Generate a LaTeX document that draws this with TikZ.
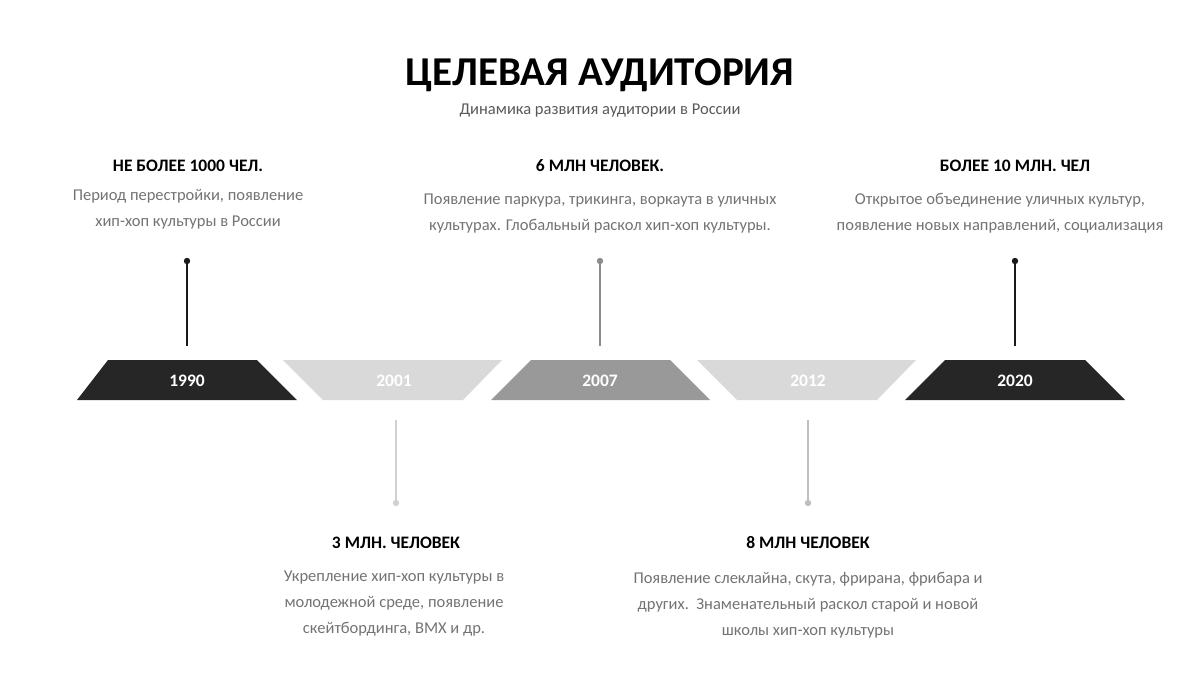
\documentclass[tikz,border=0pt]{standalone}
\usepackage{fontspec}
\setmainfont{Carlito}
\begin{document}
\begin{tikzpicture}[x=1pt,y=-1pt,
 hdr/.style={font=\fontsize{17.5}{21}\selectfont\bfseries,text=black},
 body/.style={font=\fontsize{16.5}{26}\selectfont,text=black!55,align=center},
 yr/.style={font=\fontsize{17.5}{21}\selectfont\bfseries,text=white}]
\useasboundingbox (0,0) rectangle (1200,675);
\node[font=\fontsize{41}{48}\selectfont\bfseries] (title) at (600,75) {ЦЕЛЕВАЯ АУДИТОРИЯ};
\node[font=\fontsize{16.5}{20}\selectfont,text=black!65] (sub) at (600,111) {Динамика развития аудитории в России};
% trapezoids
\fill[black!85] (108,360)--(257,360)--(297,400)--(77,400)--cycle;
\fill[black!15] (283,360)--(502,360)--(463,400)--(323,400)--cycle;
\fill[black!40] (531,360)--(670,360)--(710,400)--(491,400)--cycle;
\fill[black!15] (697,360)--(916,360)--(877,400)--(737,400)--cycle;
\fill[black!85] (945,360)--(1085,360)--(1125,400)--(905,400)--cycle;
\node[yr] (y1) at (187,381) {1990};
\node[yr] (y2) at (394,381) {2001};
\node[yr] (y3) at (600,381) {2007};
\node[yr] (y4) at (808,381) {2012};
\node[yr] (y5) at (1015,381) {2020};
% stems
\coordinate (d1) at (187,261); \coordinate (e1) at (187,346);
\coordinate (d3) at (600,261); \coordinate (e3) at (600,346);
\coordinate (d5) at (1015,261); \coordinate (e5) at (1015,346);
\coordinate (d2) at (396,503); \coordinate (e2) at (396,420);
\coordinate (d4) at (808,503); \coordinate (e4) at (808,420);
\draw[black!90,line width=1.3pt] (d1)--(e1); \fill[black!90] (d1) circle (3.2);
\draw[black!45,line width=1.3pt] (d3)--(e3); \fill[black!45] (d3) circle (3.2);
\draw[black!90,line width=1.3pt] (d5)--(e5); \fill[black!90] (d5) circle (3.2);
\draw[black!18,line width=1.3pt] (d2)--(e2); \fill[black!18] (d2) circle (3.2);
\draw[black!25,line width=1.3pt] (d4)--(e4); \fill[black!25] (d4) circle (3.2);
% texts
\node[hdr] (h1) at (188,166) {НЕ БОЛЕЕ 1000 ЧЕЛ.};
\node[body,anchor=north] (b1) at (188,186) {Период перестройки, появление\\хип-хоп культуры в России};
\node[hdr] (h3) at (600,166) {6 МЛН ЧЕЛОВЕК.};
\node[body,anchor=north] (b3) at (600,190) {Появление паркура, трикинга, воркаута в уличных\\культурах. Глобальный раскол хип-хоп культуры.};
\node[hdr] (h5) at (1015,166) {БОЛЕЕ 10 МЛН. ЧЕЛ};
\node[body,anchor=north] (b5) at (1000,190) {Открытое объединение уличных культур,\\появление новых направлений, социализация};
\node[hdr] (h2) at (396,543) {3 МЛН. ЧЕЛОВЕК};
\node[body,anchor=north] (b2) at (394,567) {Укрепление хип-хоп культуры в\\молодежной среде, появление\\скейтбординга, BMX и др.};
\node[hdr] (h4) at (808,543) {8 МЛН ЧЕЛОВЕК};
\node[body,anchor=north] (b4) at (808,569) {Появление слеклайна, скута, фрирана, фрибара и\\других.\ \ Знаменательный раскол старой и новой\\школы хип-хоп культуры};
\end{tikzpicture}
\end{document}
